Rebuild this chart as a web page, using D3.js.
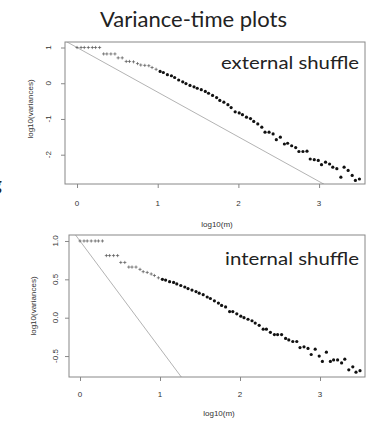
<!DOCTYPE html>
<html>
<head>
<meta charset="utf-8">
<script src="https://cdn.jsdelivr.net/npm/d3@7"></script>
<style>
  body { margin: 0; background: #fff; }
  svg { display: block; }
</style>
</head>
<body>
<div id="chart"></div>
<script>
// log10(m) positions shared by both panels
const logM = [
  0.00, 0.05, 0.09, 0.14, 0.19, 0.23, 0.28, 0.33, 0.37, 0.42,
  0.47, 0.51, 0.56, 0.61, 0.65, 0.70, 0.75, 0.79, 0.84, 0.89,
  0.93, 0.98, 1.03, 1.07, 1.12, 1.17, 1.21, 1.26, 1.31, 1.35,
  1.40, 1.45, 1.49, 1.54, 1.59, 1.63, 1.68, 1.73, 1.77, 1.82,
  1.87, 1.91, 1.96, 2.01, 2.05, 2.10, 2.15, 2.19, 2.24, 2.29,
  2.33, 2.38, 2.43, 2.47, 2.52, 2.57, 2.61, 2.66, 2.71, 2.75,
  2.80, 2.85, 2.89, 2.94, 2.99, 3.03, 3.08, 3.13, 3.17, 3.22,
  3.27, 3.31, 3.36, 3.41, 3.45, 3.50
];

// log10(variances), external shuffle
const externalVar = [
  1.00, 1.00, 1.00, 1.00, 1.00, 1.00, 1.00, 0.82, 0.82, 0.82,
  0.82, 0.71, 0.71, 0.61, 0.61, 0.60, 0.55, 0.51, 0.50, 0.49,
  0.44, 0.39, 0.33, 0.30, 0.24, 0.21, 0.16, 0.09, 0.04, -0.01,
  -0.06, -0.10, -0.14, -0.18, -0.23, -0.28, -0.34, -0.40, -0.48, -0.53,
  -0.60, -0.68, -0.80, -0.83, -0.88, -0.95, -0.99, -1.07, -1.14, -1.23,
  -1.37, -1.37, -1.42, -1.58, -1.51, -1.70, -1.68, -1.75, -1.80, -1.91,
  -1.91, -1.90, -2.12, -2.14, -2.16, -2.28, -2.21, -2.26, -2.35, -2.39,
  -2.63, -2.35, -2.44, -2.58, -2.72, -2.68
];

// log10(variances), internal shuffle
const internalVar = [
  1.00, 1.00, 1.00, 1.00, 1.00, 1.00, 1.00, 0.81, 0.81, 0.81,
  0.81, 0.72, 0.72, 0.66, 0.66, 0.66, 0.63, 0.60, 0.59, 0.57,
  0.55, 0.52, 0.50, 0.49, 0.47, 0.46, 0.44, 0.42, 0.40, 0.38,
  0.36, 0.34, 0.32, 0.30, 0.27, 0.25, 0.22, 0.19, 0.16, 0.14,
  0.08, 0.08, 0.05, 0.02, 0.00, -0.02, -0.04, -0.07, -0.10, -0.15,
  -0.15, -0.19, -0.22, -0.22, -0.22, -0.27, -0.29, -0.31, -0.31, -0.39,
  -0.38, -0.40, -0.48, -0.41, -0.50, -0.57, -0.45, -0.57, -0.55, -0.55,
  -0.59, -0.54, -0.68, -0.64, -0.71, -0.69
];

const panelLabels = ["external shuffle", "internal shuffle"];
const xTicks = [0, 1, 2, 3];
const yTicksExternal = [1, 0, -1, -2];
const yTicksInternal = [1.0, 0.5, 0.0, -0.5];
const yTickTextExternal = ["1", "0", "-1", "-2"];
const yTickTextInternal = ["1.0", "0.5", "0.0", "-0.5"];
// reference lines: intercept and slope
const refIntercept = [1, 1];
const refSlope = [-1.25, -1.4];

const width = 375, height = 421;
const axisFont = "'Liberation Sans', Arial, sans-serif";
const slideFont = "Lato, 'Open Sans', sans-serif";

const svg = d3.select("#chart")
  .append("svg")
  .attr("width", width)
  .attr("height", height);

svg.append("rect").attr("width", width).attr("height", height).attr("fill", "#fff");

// slide title
svg.append("text")
  .attr("x", 193.5).attr("y", 27)
  .attr("text-anchor", "middle")
  .attr("font-family", slideFont)
  .attr("font-size", 21)
  .attr("textLength", 187)
  .attr("lengthAdjust", "spacingAndGlyphs")
  .attr("fill", "#222")
  .text("Variance-time plots");

// letter cut off at the slide's left edge
svg.append("text")
  .attr("x", -8.5).attr("y", 191)
  .attr("font-family", slideFont)
  .attr("font-size", 20)
  .attr("fill", "#222")
  .text("g");

const panels = [
  { vals: externalVar, label: panelLabels[0], box: { l: 65, r: 365, t: 42, b: 184 },
    xDom: [-0.149, 3.569], yDom: [-2.82, 1.154], yTicks: yTicksExternal, yText: yTickTextExternal,
    yTickX: 48, xTickY: 203, xTitleY: 224, yTitleX: 30, yTitleMid: 109, labelY: 69, labelW: 138 },
  { vals: internalVar, label: panelLabels[1], box: { l: 69, r: 365, t: 235, b: 377 },
    xDom: [-0.1375, 3.5625], yDom: [-0.773, 1.078], yTicks: yTicksInternal, yText: yTickTextInternal,
    yTickX: 55, xTickY: 394, xTitleY: 413, yTitleX: 33, yTitleMid: 306, labelY: 265, labelW: 134 }
];

panels.forEach((p, k) => {
  const b = p.box;
  const x = d3.scaleLinear().domain(p.xDom).range([b.l, b.r]);
  const y = d3.scaleLinear().domain(p.yDom).range([b.b, b.t]);
  const g = svg.append("g");

  // clip for the reference line
  const clipId = "clip" + k;
  svg.append("clipPath").attr("id", clipId)
    .append("rect")
    .attr("x", b.l).attr("y", b.t)
    .attr("width", b.r - b.l).attr("height", b.b - b.t);

  // reference line
  const line = d3.line().x(d => x(d)).y(d => y(refIntercept[k] + refSlope[k] * d));
  g.append("path")
    .datum(p.xDom)
    .attr("clip-path", `url(#${clipId})`)
    .attr("fill", "none")
    .attr("stroke", "#a0a0a0")
    .attr("stroke-width", 0.8)
    .attr("d", line);

  // plot box
  g.append("rect")
    .attr("x", b.l).attr("y", b.t)
    .attr("width", b.r - b.l).attr("height", b.b - b.t)
    .attr("fill", "none")
    .attr("stroke", "#888")
    .attr("stroke-width", 1);

  // x axis ticks
  const xAxis = g.append("g").attr("transform", `translate(0,${b.b})`)
    .call(d3.axisBottom(x).tickValues(xTicks).tickSize(4).tickFormat(""));
  xAxis.select(".domain").remove();
  xAxis.selectAll("line").attr("stroke", "#888");
  g.selectAll(".xlab")
    .data(xTicks)
    .enter().append("text")
    .attr("x", d => x(d)).attr("y", p.xTickY)
    .attr("text-anchor", "middle")
    .attr("dominant-baseline", "central")
    .attr("font-family", axisFont).attr("font-size", 8).attr("fill", "#333")
    .text(d => d);

  // y axis ticks
  const yAxis = g.append("g").attr("transform", `translate(${b.l},0)`)
    .call(d3.axisLeft(y).tickValues(p.yTicks).tickSize(4).tickFormat(""));
  yAxis.select(".domain").remove();
  yAxis.selectAll("line").attr("stroke", "#888");
  g.selectAll(".ylab")
    .data(p.yTicks)
    .enter().append("text")
    .attr("transform", d => `translate(${p.yTickX},${y(d)}) rotate(-90)`)
    .attr("text-anchor", "middle")
    .attr("dominant-baseline", "central")
    .attr("font-family", axisFont).attr("font-size", 8).attr("fill", "#333")
    .text((d, i) => p.yText[i]);

  // axis titles
  g.append("text")
    .attr("x", (b.l + b.r) / 2 + 2).attr("y", p.xTitleY)
    .attr("text-anchor", "middle")
    .attr("dominant-baseline", "central")
    .attr("font-family", axisFont).attr("font-size", 8).attr("fill", "#333")
    .text("log10(m)");
  g.append("text")
    .attr("transform", `translate(${p.yTitleX},${p.yTitleMid}) rotate(-90)`)
    .attr("text-anchor", "middle")
    .attr("dominant-baseline", "central")
    .attr("font-family", axisFont).attr("font-size", 8).attr("fill", "#333")
    .text("log10(variances)");

  // points: "+" below log10(m) = 1, filled dots after
  const pts = logM.map((m, i) => ({ m, v: p.vals[i] }));
  g.selectAll(".plus")
    .data(pts.filter(d => d.m < 1))
    .enter().append("path")
    .attr("d", d => `M${x(d.m) - 1.6},${y(d.v)}h3.2M${x(d.m)},${y(d.v) - 1.6}v3.2`)
    .attr("stroke", "#555")
    .attr("stroke-width", 0.7);
  g.selectAll(".dot")
    .data(pts.filter(d => d.m >= 1))
    .enter().append("circle")
    .attr("cx", d => x(d.m))
    .attr("cy", d => y(d.v))
    .attr("r", 1.6)
    .attr("fill", "#111");

  // panel label
  g.append("text")
    .attr("x", 359).attr("y", p.labelY)
    .attr("text-anchor", "end")
    .attr("font-family", slideFont)
    .attr("font-size", 18)
    .attr("textLength", p.labelW)
    .attr("lengthAdjust", "spacingAndGlyphs")
    .attr("fill", "#222")
    .text(p.label);
});
</script>
</body>
</html>
